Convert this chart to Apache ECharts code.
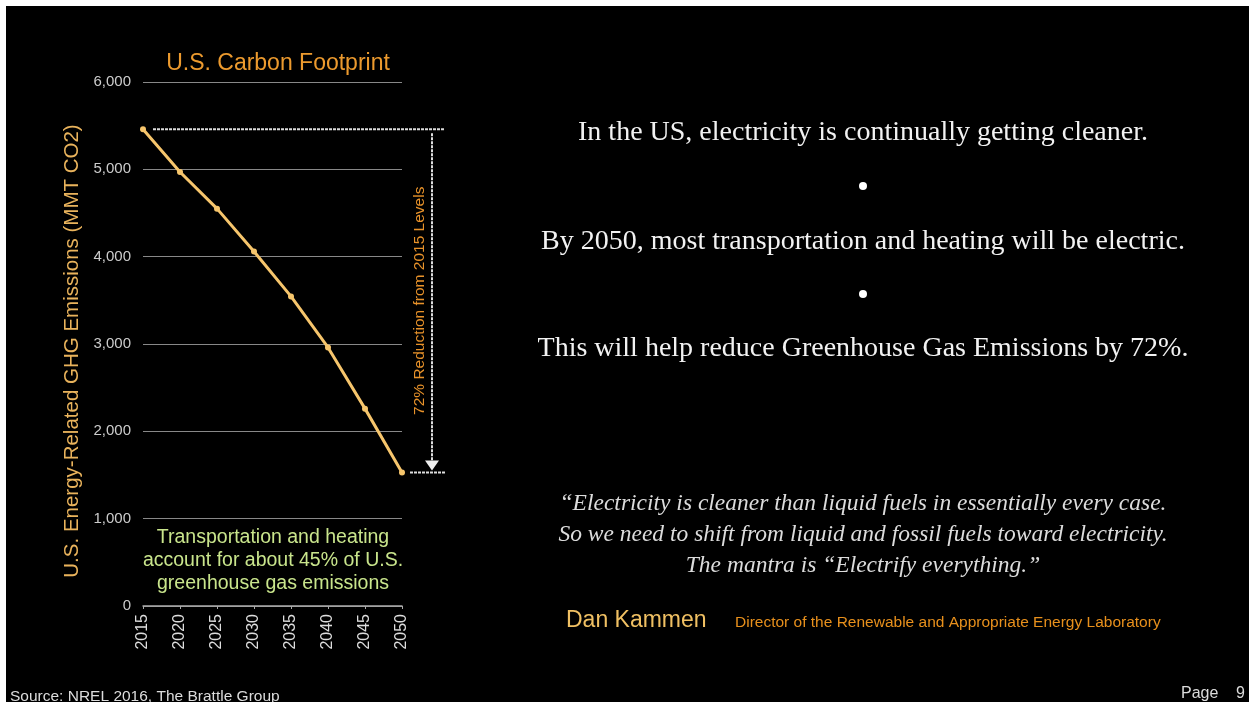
<!DOCTYPE html>
<html>
<head>
<meta charset="utf-8">
<script src="https://cdn.jsdelivr.net/npm/echarts@6/dist/echarts.min.js"></script>
<style>
html,body{margin:0;padding:0;background:#fff;}
#c{width:1249px;height:702px;}
</style>
</head>
<body>
<div id="c"></div>
<script>
// ---- data ----
var years = ['2015','2020','2025','2030','2035','2040','2045','2050'];
var emissions = [5460, 4970, 4550, 4060, 3545, 2960, 2260, 1530];
var yTicks = [0, 1000, 2000, 3000, 4000, 5000, 6000];

var chartTitle = 'U.S. Carbon Footprint';
var yAxisName = 'U.S. Energy-Related GHG Emissions (MMT CO2)';
var reductionLabel = '72% Reduction from 2015 Levels';
var noteLines = ['Transportation and heating', 'account for about 45% of U.S.', 'greenhouse gas emissions'];
var points = [
  'In the US, electricity is continually getting cleaner.',
  'By 2050, most transportation and heating will be electric.',
  'This will help reduce Greenhouse Gas Emissions by 72%.'
];
var quoteLines = [
  '\u201CElectricity is cleaner than liquid fuels in essentially every case.',
  'So we need to shift from liquid and fossil fuels toward electricity.',
  'The mantra is \u201CElectrify everything.\u201D'
];
var author = 'Dan Kammen';
var authorRole = 'Director of the Renewable and Appropriate Energy Laboratory';
var sourceText = 'Source: NREL 2016, The Brattle Group';
var pageText = 'Page    9';

var chart = echarts.init(document.getElementById('c'));
var sans = '"Liberation Sans", Arial, Helvetica, sans-serif';
var serif = '"Liberation Serif", "DejaVu Serif", serif';

var option = {
  backgroundColor: '#000',
  animation: false,
  title: {
    text: chartTitle,
    left: 273, top: 47, textAlign: 'center',
    textStyle: {color: '#ec9a2e', fontFamily: sans, fontSize: 23, fontWeight: 'normal'}
  },
  grid: {left: 143, right: 847, top: 82, bottom: 96},
  xAxis: {
    type: 'category',
    data: years,
    boundaryGap: false,
    axisLine: {lineStyle: {color: '#aaa', width: 1.5}},
    axisTick: {show: true, alignWithLabel: true, length: 3, lineStyle: {color: '#aaa'}},
    axisLabel: {rotate: 90, color: '#ddd', fontFamily: sans, fontSize: 16, margin: 8}
  },
  yAxis: {
    type: 'value',
    min: yTicks[0], max: yTicks[yTicks.length - 1], interval: 1000,
    axisLine: {show: false},
    axisTick: {show: false},
    splitLine: {lineStyle: {color: '#888', width: 1}},
    axisLabel: {
      color: '#ccc', fontFamily: sans, fontSize: 15, margin: 12,
      formatter: function (v) { return v.toLocaleString('en-US'); }
    }
  },
  series: [{
    type: 'line',
    data: emissions,
    symbol: 'circle',
    symbolSize: 6,
    lineStyle: {color: '#f6c56c', width: 3},
    itemStyle: {color: '#f6c56c'},
    z: 5
  }]
};
chart.setOption(option);

// annotation graphics positioned through the axes
var p0 = chart.convertToPixel({gridIndex: 0}, [years[0], emissions[0]]);
var pN = chart.convertToPixel({gridIndex: 0}, [years[years.length - 1], emissions[emissions.length - 1]]);
var ax = pN[0] + 30;
var rightEnd = pN[0] + 43;
var dashStyle = {stroke: '#ddd', lineWidth: 2, lineDash: [3, 1]};

var graphics = [
  {type: 'rect', shape: {x: 0, y: 0, width: 1249, height: 6}, style: {fill: '#fff'}, z: 100},
  {type: 'rect', shape: {x: 0, y: 0, width: 6, height: 702}, style: {fill: '#fff'}, z: 100},
  {type: 'line', shape: {x1: p0[0] + 10, y1: p0[1], x2: rightEnd, y2: p0[1]}, style: dashStyle, z: 10},
  {type: 'line', shape: {x1: pN[0] + 8, y1: pN[1], x2: rightEnd, y2: pN[1]}, style: dashStyle, z: 10},
  {type: 'line', shape: {x1: ax, y1: p0[1] + 4, x2: ax, y2: pN[1] - 10}, style: dashStyle, z: 10},
  {type: 'polygon', shape: {points: [[ax - 7, pN[1] - 12], [ax + 7, pN[1] - 12], [ax, pN[1] - 2]]}, style: {fill: '#eee'}, z: 10},
  {type: 'text', x: ax - 12, y: (p0[1] + pN[1]) / 2, rotation: Math.PI / 2,
    style: {text: reductionLabel, fill: '#e8922a', font: '15.5px ' + sans, textAlign: 'center', textVerticalAlign: 'middle'}, z: 10},
  {type: 'text', x: 72, y: 351, rotation: Math.PI / 2,
    style: {text: yAxisName, fill: '#e9b35c', font: '20.5px ' + sans, textAlign: 'center', textVerticalAlign: 'middle'}, z: 10}
];

// note lines in green
for (var i = 0; i < noteLines.length; i++) {
  graphics.push({type: 'text', x: 273, y: 538 + i * 23,
    style: {text: noteLines[i], fill: '#c9e58c', font: '19.5px ' + sans, textAlign: 'center', textVerticalAlign: 'middle'}});
}
// right-hand points with bullets
var pointY = [133, 242, 349];
for (var j = 0; j < points.length; j++) {
  graphics.push({type: 'text', x: 863, y: pointY[j],
    style: {text: points[j], fill: '#f2f2f2', font: '28px ' + serif, textAlign: 'center', textVerticalAlign: 'middle'}});
}
graphics.push({type: 'circle', shape: {cx: 863, cy: 186, r: 4}, style: {fill: '#fff'}});
graphics.push({type: 'circle', shape: {cx: 863, cy: 294, r: 4}, style: {fill: '#fff'}});
// quote
for (var k = 0; k < quoteLines.length; k++) {
  graphics.push({type: 'text', x: 863, y: 504 + k * 31,
    style: {text: quoteLines[k], fill: '#dcdcdc', font: 'italic 23.5px ' + serif, textAlign: 'center', textVerticalAlign: 'middle'}});
}
graphics.push({type: 'text', x: 566, y: 621,
  style: {text: author, fill: '#f0c063', font: '23px ' + sans, textAlign: 'left', textVerticalAlign: 'middle'}});
graphics.push({type: 'text', x: 735, y: 623,
  style: {text: authorRole, fill: '#e8901c', font: '15.5px ' + sans, textAlign: 'left', textVerticalAlign: 'middle'}});
graphics.push({type: 'text', x: 10, y: 697,
  style: {text: sourceText, fill: '#dcdcdc', font: '15.5px ' + sans, textAlign: 'left', textVerticalAlign: 'middle'}});
graphics.push({type: 'text', x: 1245, y: 694,
  style: {text: pageText, fill: '#dcdcdc', font: '16px ' + sans, textAlign: 'right', textVerticalAlign: 'middle'}});

chart.setOption({graphic: {elements: graphics}});
</script>
</body>
</html>
